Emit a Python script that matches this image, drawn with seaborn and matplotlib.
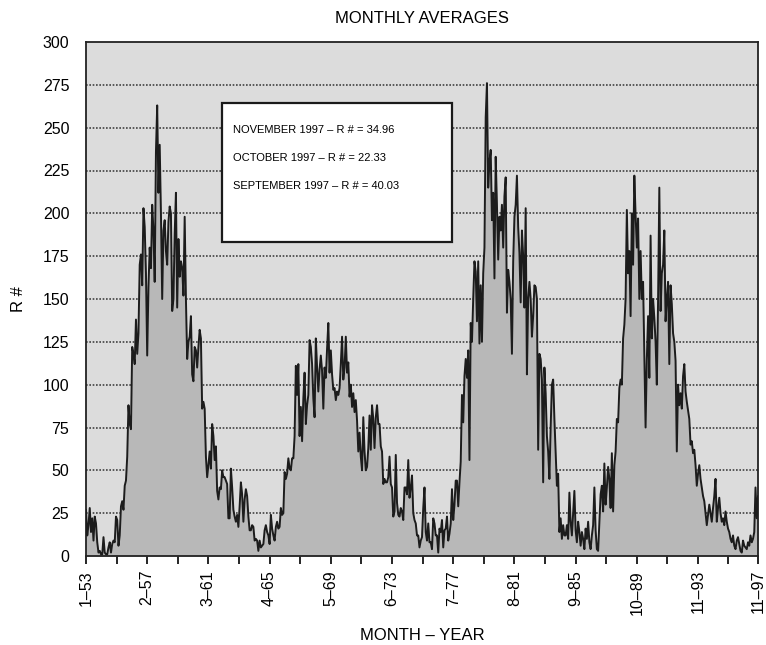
import numpy as np
import pandas as pd
import seaborn as sns
import matplotlib.pyplot as plt
from matplotlib.patches import Rectangle

# monthly R# values, Jan 1953 .. Nov 1997 (one row per year)
r_1953_57 = [27, 12, 18, 28, 14, 22, 9, 23, 19, 8, 2, 3,
             1, 1, 11, 2, 1, 1, 5, 8, 2, 7, 9, 8,
             23, 21, 6, 12, 29, 32, 27, 41, 44, 58, 88, 77,
             74, 122, 118, 112, 138, 118, 130, 170, 176, 158, 203, 192,
             165, 117, 157, 180, 168, 205, 190, 160, 236, 263, 212, 240]
r_1958_62 = [200, 150, 190, 196, 178, 170, 195, 204, 200, 143, 150, 188,
             212, 145, 185, 163, 172, 168, 152, 198, 150, 115, 125, 128,
             140, 106, 102, 122, 120, 110, 122, 132, 127, 86, 90, 86,
             58, 46, 53, 61, 51, 77, 70, 56, 64, 38, 33, 40,
             39, 50, 46, 46, 44, 42, 22, 22, 51, 40, 27, 23]
r_1963_67 = [20, 24, 17, 29, 43, 36, 20, 33, 39, 35, 23, 15,
             15, 18, 17, 9, 10, 9, 3, 9, 5, 6, 7, 15,
             18, 14, 12, 7, 24, 16, 12, 9, 17, 20, 16, 17,
             28, 24, 25, 49, 45, 48, 57, 51, 50, 57, 57, 70,
             111, 94, 112, 70, 87, 67, 92, 107, 77, 88, 94, 126]
r_1968_72 = [122, 112, 92, 81, 127, 110, 96, 109, 117, 108, 86, 110,
             104, 121, 136, 107, 120, 106, 97, 98, 91, 96, 94, 98,
             112, 128, 103, 110, 128, 107, 113, 93, 100, 87, 95, 84,
             91, 79, 61, 72, 58, 50, 81, 61, 50, 52, 63, 82,
             62, 88, 80, 63, 81, 88, 77, 77, 64, 61, 42, 45]
r_1973_77 = [43, 43, 46, 58, 42, 40, 23, 26, 59, 31, 24, 23,
             28, 26, 21, 40, 40, 36, 56, 34, 40, 47, 25, 21,
             19, 12, 12, 5, 9, 11, 28, 40, 14, 9, 19, 8,
             8, 4, 22, 19, 12, 12, 2, 16, 14, 21, 5, 15,
             16, 23, 9, 13, 19, 39, 21, 30, 44, 44, 29, 43]
r_1978_82 = [55, 94, 78, 105, 115, 104, 120, 56, 136, 125, 150, 172,
             166, 137, 172, 124, 158, 125, 165, 180, 256, 276, 215, 230,
             237, 196, 212, 162, 233, 205, 173, 198, 190, 205, 180, 210,
             221, 142, 167, 160, 150, 118, 172, 198, 205, 222, 192, 177,
             148, 190, 175, 145, 203, 106, 150, 160, 150, 128, 140, 158]
r_1983_87 = [157, 150, 62, 118, 115, 103, 43, 110, 95, 70, 61, 45,
             75, 100, 103, 80, 60, 41, 48, 14, 22, 10, 18, 12,
             12, 18, 10, 37, 20, 12, 25, 38, 15, 8, 20, 14,
             6, 14, 10, 4, 16, 10, 20, 8, 4, 12, 18, 40,
             15, 4, 3, 20, 36, 41, 26, 54, 30, 40, 52, 45]
r_1988_92 = [28, 60, 26, 53, 61, 80, 78, 98, 103, 100, 127, 135,
             150, 202, 165, 178, 140, 200, 170, 222, 199, 180, 197, 150,
             178, 150, 160, 119, 75, 115, 140, 104, 187, 127, 150, 139,
             125, 100, 149, 215, 143, 165, 170, 190, 137, 150, 160, 112,
             158, 147, 130, 125, 114, 61, 100, 88, 95, 86, 105, 112]
r_1993_97 = [96, 90, 85, 80, 65, 67, 60, 62, 53, 41, 48, 53,
             45, 40, 35, 32, 25, 18, 24, 30, 25, 20, 28, 35,
             45, 20, 28, 34, 25, 20, 22, 18, 26, 20, 16, 14,
             10, 8, 12, 6, 4, 9, 11, 7, 3, 2, 9, 6,
             5, 4, 8, 6, 12, 8, 10, 14, 40, 22, 35]

tick_labels = ["1–53", "2–57", "3–61", "4–65", "5–69", "6–73",
               "7–77", "8–81", "9–85", "10–89", "11–93", "11–97"]
box_lines = ["NOVEMBER 1997 – R # = 34.96",
             "OCTOBER 1997 – R # = 22.33",
             "SEPTEMBER 1997 – R # = 40.03"]

r = r_1953_57 + r_1958_62 + r_1963_67 + r_1968_72 + r_1973_77 + \
    r_1978_82 + r_1983_87 + r_1988_92 + r_1993_97
df = pd.DataFrame({"month": np.arange(len(r)), "r": r})

sns.set_style("white")
plt.rcParams["font.family"] = ["Liberation Sans", "DejaVu Sans"]
plt.rcParams["text.color"] = "black"
plt.rcParams["xtick.color"] = "black"
plt.rcParams["ytick.color"] = "black"
plt.rcParams["axes.labelcolor"] = "black"

fig = plt.figure(figsize=(7.66, 6.45), dpi=100)
ax = fig.add_axes([86 / 766, 1 - 556 / 645, 672 / 766, 514 / 645])
ax.set_facecolor("#dcdcdc")

for v in range(25, 300, 25):
    ax.axhline(v, color="#404040", lw=1.2, ls=(0, (1, 1)), zorder=1)

ax.fill_between(df["month"], 0, df["r"], color="#b8b8b8", lw=0, zorder=2)
sns.lineplot(data=df, x="month", y="r", color="#1c1c1c", lw=1.4, ax=ax, zorder=3)

# tick positions from the "month–year" labels
pos = []
for lab in tick_labels:
    m, y = lab.split("–")
    pos.append((1900 + int(y) - 1953) * 12 + int(m) - 1)
mids = [(a + b) / 2 for a, b in zip(pos[:-1], pos[1:])]

ax.set_xlim(0, pos[-1])
ax.set_ylim(0, 300)
ax.set_xticks(pos)
ax.set_xticklabels(tick_labels, rotation=90, fontsize=11.5)
ax.set_xticks(mids, minor=True)
ax.tick_params(axis="x", which="both", direction="out", length=6, width=1.2,
               color="black", bottom=True, pad=4)
ax.set_yticks(range(0, 301, 25))
ax.tick_params(axis="y", length=0, labelsize=11.5, pad=12)

for s in ax.spines.values():
    s.set_color("#222222")
    s.set_linewidth(1.3)

ax.set_xlabel("MONTH – YEAR", fontsize=12, labelpad=10)
ax.set_ylabel("R #", fontsize=12, labelpad=12)
ax.set_title("MONTHLY AVERAGES", fontsize=12, pad=14)

box = Rectangle((0.2024, 0.611), 0.342, 0.270, transform=ax.transAxes,
                facecolor="white", edgecolor="#1a1a1a", lw=1.6, zorder=5)
ax.add_patch(box)
for k, line in enumerate(box_lines):
    ax.text(0.219, 0.829 - k * 0.055, line, transform=ax.transAxes,
            fontsize=8, va="center", ha="left", zorder=6)

fig.savefig("out.png", dpi=100)
